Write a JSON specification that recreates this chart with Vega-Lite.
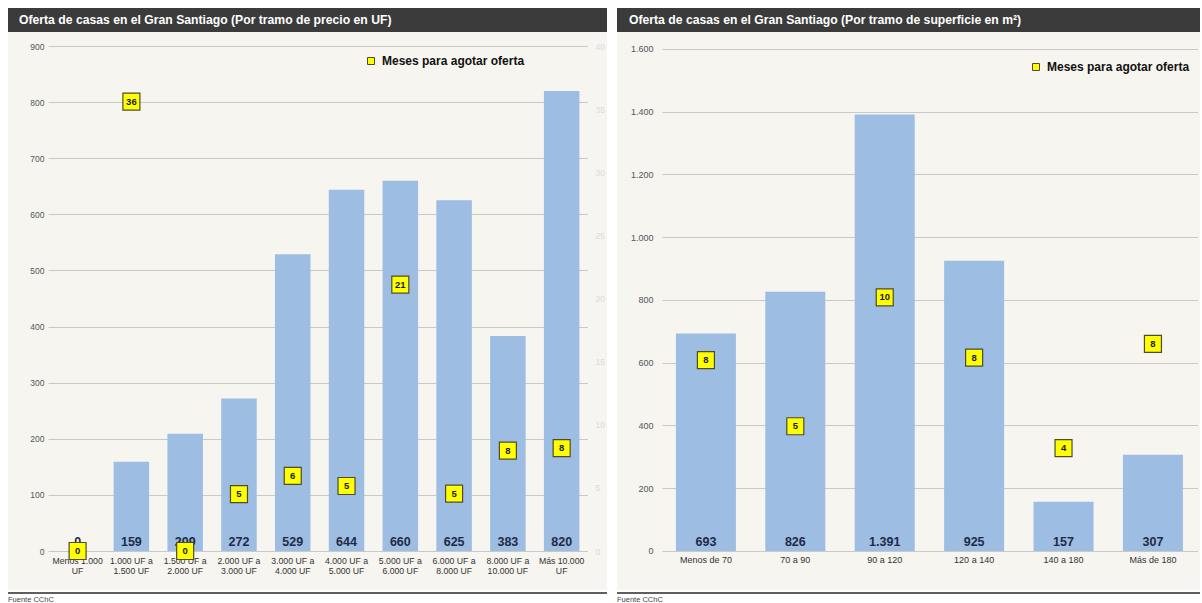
{
  "$schema": "https://vega.github.io/schema/vega-lite/v6.json",
  "padding": {"left": 8, "top": 8, "right": 0, "bottom": 0},
  "background": "white",
  "config": {
    "font": "Liberation Sans",
    "view": {"stroke": null},
    "locale": {"number": {"decimal": ",", "thousands": ".", "grouping": [3], "currency": ["$", ""]}}
  },
  "datasets": {
    "precio": [
      {"tramo": "Menos 1.000 UF", "casas": 0, "meses": 0},
      {"tramo": "1.000 UF a 1.500 UF", "casas": 159, "meses": 35.6},
      {"tramo": "1.500 UF a 2.000 UF", "casas": 209, "meses": 0},
      {"tramo": "2.000 UF a 3.000 UF", "casas": 272, "meses": 4.5},
      {"tramo": "3.000 UF a 4.000 UF", "casas": 529, "meses": 5.95},
      {"tramo": "4.000 UF a 5.000 UF", "casas": 644, "meses": 5.15},
      {"tramo": "5.000 UF a 6.000 UF", "casas": 660, "meses": 21.1},
      {"tramo": "6.000 UF a 8.000 UF", "casas": 625, "meses": 4.55},
      {"tramo": "8.000 UF a 10.000 UF", "casas": 383, "meses": 7.95},
      {"tramo": "Más 10.000 UF", "casas": 820, "meses": 8.15}
    ],
    "superficie": [
      {"tramo": "Menos de 70", "casas": 693, "meses": 7.6},
      {"tramo": "70 a 90", "casas": 826, "meses": 4.97},
      {"tramo": "90 a 120", "casas": 1391, "meses": 10.1},
      {"tramo": "120 a 140", "casas": 925, "meses": 7.7},
      {"tramo": "140 a 180", "casas": 157, "meses": 4.1},
      {"tramo": "Más de 180", "casas": 307, "meses": 8.25}
    ]
  },
  "spacing": 10,
  "resolve": {"scale": {"color": "independent"}, "legend": {"color": "independent"}},
  "hconcat": [
    {
      "spacing": 0,
      "resolve": {"scale": {"color": "independent"}, "legend": {"color": "independent"}},
      "title": {"text": "Fuente  CChC", "orient": "bottom", "anchor": "start", "offset": 0, "fontSize": 7.5, "fontWeight": "normal", "color": "#444444", "baseline": "top"},
      "vconcat": [
        {
          "width": 599, "height": 24,
          "view": {"fill": "#3b3b3b"},
          "data": {"values": [{}]},
          "mark": {"type": "point", "opacity": 0},
          "title": {"text": "Oferta de casas en el Gran Santiago (Por tramo de precio en UF)", "orient": "top", "anchor": "start", "frame": "group", "offset": -18, "dx": 11, "color": "white", "fontSize": 12.2, "fontWeight": "bold"}
        },
        {
          "spacing": 0,
          "bounds": "flush",
          "resolve": {"scale": {"color": "independent"}, "legend": {"color": "independent"}},
          "hconcat": [
            {
              "width": 40, "height": 558,
              "view": {"fill": "#f6f5f0"},
              "data": {"name": "precio"},
              "mark": {"type": "point", "opacity": 0},
              "encoding": {
                "y": {"field": "casas", "type": "quantitative", "scale": {"domain": [-69.5, 925], "nice": false, "zero": false},
                  "axis": {"orient": "left", "offset": -40, "values": [0, 100, 200, 300, 400, 500, 600, 700, 800, 900], "format": "d", "labelFontSize": 8.5, "labelColor": "#555555", "ticks": false, "domain": false, "grid": false, "labelPadding": 4, "title": null}}
              }
            },
            {
              "width": 540, "height": 558,
              "view": {"fill": "#f6f5f0"},
              "data": {"name": "precio"},
              "encoding": {
                "x": {"field": "tramo", "type": "nominal", "sort": null,
                  "scale": {"paddingInner": 0.34, "paddingOuter": 0.19, "align": 0.58},
                  "axis": {"orient": "bottom", "offset": -39, "title": null, "domain": false, "ticks": false, "labelAngle": 0, "labelFontSize": 8.7, "labelColor": "#333333", "labelPadding": 5, "labelLineHeight": 10.5, "labelOverlap": false,
                    "labelExpr": "datum.label == 'Menos 1.000 UF' ? ['Menos 1.000', 'UF'] : datum.label == 'Más 10.000 UF' ? ['Más 10.000', 'UF'] : [slice(datum.label, 0, indexof(datum.label, ' a ') + 2), slice(datum.label, indexof(datum.label, ' a ') + 3)]"}}
              },
              "layer": [
                {
                  "mark": {"type": "bar", "color": "#9dbde3"},
                  "encoding": {
                    "y": {"field": "casas", "type": "quantitative", "scale": {"domain": [-69.5, 925], "nice": false, "zero": false},
                      "axis": {"values": [0, 100, 200, 300, 400, 500, 600, 700, 800, 900], "grid": true, "gridColor": "#c9c9c9", "labels": false, "ticks": false, "domain": false, "title": null}},
                    "y2": {"datum": 0}
                  }
                },
                {
                  "mark": {"type": "text", "fontSize": 12.5, "fontWeight": "bold", "color": "#1f2b45", "baseline": "alphabetic", "dy": -5},
                  "encoding": {
                    "y": {"datum": 0, "type": "quantitative", "scale": {"domain": [-69.5, 925], "nice": false, "zero": false}, "axis": null},
                    "text": {"field": "casas", "type": "quantitative", "format": ",d"}
                  }
                },
                {
                  "mark": {"type": "point", "shape": "square", "filled": true, "size": 289, "stroke": "#4d4d2e", "strokeWidth": 1.2, "opacity": 1},
                  "encoding": {
                    "y": {"field": "meses", "type": "quantitative", "scale": {"domain": [-3.089, 41.11], "nice": false, "zero": false}, "axis": null},
                    "color": {"datum": "Meses para agotar oferta", "scale": {"range": ["#ffff00"]},
                      "legend": {"orient": "none", "legendX": 317, "legendY": 23, "title": null, "padding": 0, "symbolType": "square", "symbolSize": 49, "symbolStrokeColor": "#4d4d2e", "symbolStrokeWidth": 1, "symbolFillColor": "#ffff00", "labelFontSize": 12, "labelFontWeight": "bold", "labelColor": "#111111", "labelOffset": 5}}
                  }
                },
                {
                  "mark": {"type": "text", "fontSize": 9.5, "fontWeight": "bold", "color": "#1a1a1a", "baseline": "middle"},
                  "encoding": {
                    "y": {"field": "meses", "type": "quantitative", "scale": {"domain": [-3.089, 41.11], "nice": false, "zero": false}, "axis": null},
                    "text": {"field": "meses", "type": "quantitative", "format": ".0f"}
                  }
                }
              ],
              "resolve": {"scale": {"y": "independent"}}
            },
            {
              "width": 19, "height": 558,
              "view": {"fill": "#f6f5f0"},
              "data": {"name": "precio"},
              "mark": {"type": "point", "opacity": 0},
              "encoding": {
                "y": {"field": "meses", "type": "quantitative", "scale": {"domain": [-3.089, 41.11], "nice": false, "zero": false},
                  "axis": {"orient": "right", "offset": -19, "values": [0, 5, 10, 15, 20, 25, 30, 35, 40], "labelColor": "#dcdcd5", "labelFontSize": 8.5, "ticks": false, "domain": false, "grid": false, "labelPadding": 7, "title": null}}
              }
            }
          ]
        },
        {
          "width": 599, "height": 2,
          "view": {"fill": "#5f5f5f"},
          "data": {"values": [{}]},
          "mark": {"type": "point", "opacity": 0}
        }
      ]
    },
    {
      "spacing": 0,
      "resolve": {"scale": {"color": "independent"}, "legend": {"color": "independent"}},
      "title": {"text": "Fuente  CChC", "orient": "bottom", "anchor": "start", "offset": 0, "fontSize": 7.5, "fontWeight": "normal", "color": "#444444", "baseline": "top"},
      "vconcat": [
        {
          "width": 583, "height": 24,
          "view": {"fill": "#3b3b3b"},
          "data": {"values": [{}]},
          "mark": {"type": "point", "opacity": 0},
          "title": {"text": "Oferta de casas en el Gran Santiago (Por tramo de superficie en m²)", "orient": "top", "anchor": "start", "frame": "group", "offset": -18, "dx": 12, "color": "white", "fontSize": 12.2, "fontWeight": "bold"}
        },
        {
          "spacing": 0,
          "bounds": "flush",
          "resolve": {"scale": {"color": "independent"}, "legend": {"color": "independent"}},
          "hconcat": [
            {
              "width": 45, "height": 558,
              "view": {"fill": "#f6f5f0"},
              "data": {"name": "superficie"},
              "mark": {"type": "point", "opacity": 0},
              "encoding": {
                "y": {"field": "casas", "type": "quantitative", "scale": {"domain": [-124.3, 1654], "nice": false, "zero": false},
                  "axis": {"orient": "left", "offset": -45, "values": [0, 200, 400, 600, 800, 1000, 1200, 1400, 1600], "format": ",d", "labelFontSize": 9, "labelColor": "#555555", "ticks": false, "domain": false, "grid": false, "labelPadding": 9, "title": null}}
              }
            },
            {
              "width": 536, "height": 558,
              "view": {"fill": "#f6f5f0"},
              "data": {"name": "superficie"},
              "encoding": {
                "x": {"field": "tramo", "type": "nominal", "sort": null,
                  "scale": {"paddingInner": 0.329, "paddingOuter": 0.162, "align": 0.48},
                  "axis": {"orient": "bottom", "offset": -39, "title": null, "domain": false, "ticks": false, "labelAngle": 0, "labelFontSize": 9, "labelColor": "#333333", "labelPadding": 4, "labelOverlap": false}}
              },
              "layer": [
                {
                  "mark": {"type": "bar", "color": "#9dbde3"},
                  "encoding": {
                    "y": {"field": "casas", "type": "quantitative", "scale": {"domain": [-124.3, 1654], "nice": false, "zero": false},
                      "axis": {"values": [0, 200, 400, 600, 800, 1000, 1200, 1400, 1600], "grid": true, "gridColor": "#c9c9c9", "labels": false, "ticks": false, "domain": false, "title": null}},
                    "y2": {"datum": 0}
                  }
                },
                {
                  "mark": {"type": "text", "fontSize": 12.5, "fontWeight": "bold", "color": "#1f2b45", "baseline": "alphabetic", "dy": -5},
                  "encoding": {
                    "y": {"datum": 0, "type": "quantitative", "scale": {"domain": [-124.3, 1654], "nice": false, "zero": false}, "axis": null},
                    "text": {"field": "casas", "type": "quantitative", "format": ",d"}
                  }
                },
                {
                  "mark": {"type": "point", "shape": "square", "filled": true, "size": 289, "stroke": "#4d4d2e", "strokeWidth": 1.2, "opacity": 1},
                  "encoding": {
                    "y": {"field": "meses", "type": "quantitative", "scale": {"domain": [-1.554, 20.675], "nice": false, "zero": false}, "axis": null},
                    "color": {"datum": "Meses para agotar oferta", "scale": {"range": ["#ffff00"]},
                      "legend": {"orient": "none", "legendX": 368, "legendY": 29, "title": null, "padding": 0, "symbolType": "square", "symbolSize": 49, "symbolStrokeColor": "#4d4d2e", "symbolStrokeWidth": 1, "symbolFillColor": "#ffff00", "labelFontSize": 12, "labelFontWeight": "bold", "labelColor": "#111111", "labelOffset": 5}}
                  }
                },
                {
                  "mark": {"type": "text", "fontSize": 9.5, "fontWeight": "bold", "color": "#1a1a1a", "baseline": "middle"},
                  "encoding": {
                    "y": {"field": "meses", "type": "quantitative", "scale": {"domain": [-1.554, 20.675], "nice": false, "zero": false}, "axis": null},
                    "text": {"field": "meses", "type": "quantitative", "format": ".0f"}
                  }
                }
              ],
              "resolve": {"scale": {"y": "independent"}}
            },
            {
              "width": 2, "height": 558,
              "view": {"fill": "#f6f5f0"},
              "data": {"values": [{}]},
              "mark": {"type": "point", "opacity": 0}
            }
          ]
        },
        {
          "width": 583, "height": 2,
          "view": {"fill": "#5f5f5f"},
          "data": {"values": [{}]},
          "mark": {"type": "point", "opacity": 0}
        }
      ]
    }
  ]
}
